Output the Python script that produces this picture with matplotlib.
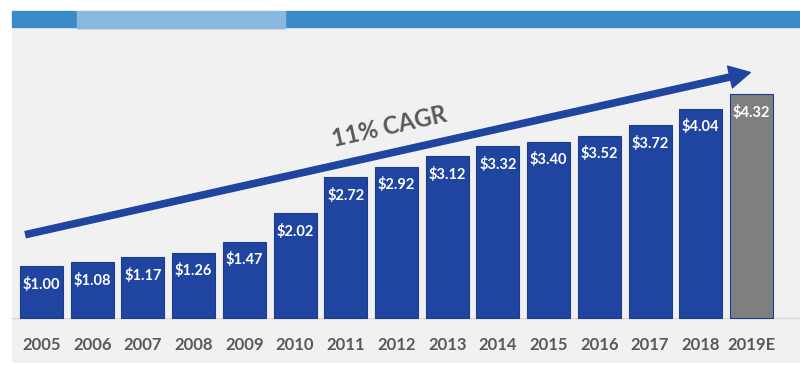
import matplotlib.pyplot as plt
import numpy as np
from matplotlib.patches import Rectangle, FancyArrowPatch

years = ['2005', '2006', '2007', '2008', '2009', '2010', '2011', '2012',
         '2013', '2014', '2015', '2016', '2017', '2018', '2019E']
values = [1.00, 1.08, 1.17, 1.26, 1.47, 2.02, 2.72, 2.92,
          3.12, 3.32, 3.40, 3.52, 3.72, 4.04, 4.32]
estimate = [False] * 14 + [True]
cagr_label = '11% CAGR'

BLUE = '#1f45a0'
GRAY_BAR = '#7f7f7f'
TEXT_GRAY = '#595959'
PANEL = '#f1f1f1'

plt.rcParams['font.family'] = ['Lato', 'DejaVu Sans']

fig = plt.figure(figsize=(8, 3.65), dpi=100)

# light gray panel holding the chart
ax = fig.add_axes([12 / 800, 2 / 365, 788 / 800, 336 / 365])
ax.set_facecolor(PANEL)
for s in ax.spines.values():
    s.set_visible(False)

x = np.arange(len(years))
colors = [GRAY_BAR if e else BLUE for e in estimate]
ax.bar(x, values, width=0.85, color=colors, edgecolor='#1a3c8c', linewidth=0.8, zorder=3)
ax.axhline(0, color='#d9d9d9', lw=1, zorder=2)

for xi, v in zip(x, values):
    ax.annotate(f'${v:.2f}', (xi, v), xytext=(0, -13), textcoords='offset points',
                ha='center', va='center', color='white', fontsize=10.5,
                fontweight='bold', zorder=4)

# year labels sit inside the panel, below the baseline
for xi, yr in zip(x, years):
    ax.annotate(yr, (xi, 0), xytext=(0, -19), textcoords='offset points',
                ha='center', va='center', fontsize=12, fontweight='bold',
                color=TEXT_GRAY)

ax.set_xticks([])
ax.set_yticks([])
ax.set_xlim(-0.582, 14.956)
ax.set_ylim(-0.865, 5.615)

# CAGR arrow
arrow = FancyArrowPatch((-0.365, 1.6), (14.03, 4.75),
                        arrowstyle='simple,head_length=1.5,head_width=1.6,tail_width=0.45',
                        mutation_scale=10, color=BLUE, zorder=5)
ax.add_patch(arrow)
ax.text(6.85, 3.69, cagr_label, rotation=12.7, ha='center', va='center',
        fontsize=17, fontweight='bold', color=TEXT_GRAY, zorder=5,
        rotation_mode='anchor')

# header band and tab
fig.patches.append(Rectangle((12 / 800, (365 - 27) / 365), 788 / 800, 16 / 365,
                             transform=fig.transFigure, color='#3a8bc8', zorder=1))
fig.patches.append(Rectangle((77 / 800, (365 - 29) / 365), 208 / 800, 2 / 365,
                             transform=fig.transFigure, color='#e4e4e4', zorder=2))
fig.patches.append(Rectangle((77 / 800, (365 - 11) / 365), 208 / 800, 11 / 365,
                             transform=fig.transFigure, color='white', zorder=2))
fig.patches.append(Rectangle((77 / 800, (365 - 28) / 365), 208 / 800, 17 / 365,
                             transform=fig.transFigure, color='#8ab9e0', zorder=2))

fig.savefig('out.png', dpi=100)
